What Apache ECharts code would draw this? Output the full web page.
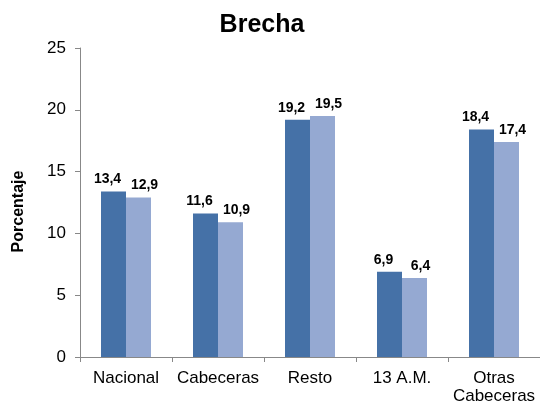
<!DOCTYPE html>
<html>
<head>
<meta charset="utf-8">
<script src="https://cdn.jsdelivr.net/npm/echarts@6/dist/echarts.min.js"></script>
<style>
  html, body { margin: 0; padding: 0; background: #fff; }
  #chart { width: 540px; height: 407px; }
</style>
</head>
<body>
<div id="chart"></div>
<script>
var categories = ['Nacional', 'Cabeceras', 'Resto', '13 A.M.', 'Otras\nCabeceras'];
var serie1 = [13.4, 11.6, 19.2, 6.9, 18.4];
var serie2 = [12.9, 10.9, 19.5, 6.4, 17.4];

// etiquetas con coma decimal
function coma(p) {
    return p.value.toFixed(1).replace('.', ',');
}

function etiqueta(dx) {
    return {
        show: true,
        position: 'top',
        distance: 5,
        offset: [dx, 0],
        formatter: coma,
        color: '#000',
        fontWeight: 'bold',
        fontSize: 14,
        fontFamily: 'Liberation Sans, Arial'
    };
}

var option = {
    animation: false,
    title: {
        text: 'Brecha',
        left: 257,
        textAlign: 'center',
        top: 8,
        textStyle: { fontSize: 25, fontWeight: 'bold', color: '#000', fontFamily: 'Liberation Sans, Arial' }
    },
    grid: { left: 80, right: 0, top: 48, bottom: 50 },
    xAxis: {
        type: 'category',
        data: categories,
        axisLine: { lineStyle: { color: '#888' } },
        axisTick: { show: true, alignWithLabel: false, length: 5, lineStyle: { color: '#888' } },
        axisLabel: { interval: 0, color: '#000', fontSize: 17, lineHeight: 18, margin: 12, fontFamily: 'Liberation Sans, Arial' }
    },
    yAxis: {
        type: 'value',
        min: 0,
        max: 25,
        interval: 5,
        name: 'Porcentaje',
        nameLocation: 'middle',
        nameGap: 53,
        nameTextStyle: { fontSize: 16, fontWeight: 'bold', color: '#000', padding: [0, 18, 0, 0], fontFamily: 'Liberation Sans, Arial' },
        axisLine: { show: true, lineStyle: { color: '#888' } },
        axisTick: { show: true, length: 5, lineStyle: { color: '#888' } },
        splitLine: { show: false },
        axisLabel: { color: '#000', fontSize: 17, margin: 14, fontFamily: 'Liberation Sans, Arial' }
    },
    series: [{
        type: 'bar',
        data: serie1,
        barWidth: 25,
        barGap: '0%',
        itemStyle: { color: '#4571A7' },
        label: etiqueta(-6)
    }, {
        type: 'bar',
        data: serie2,
        barWidth: 25,
        itemStyle: { color: '#95A9D2' },
        label: etiqueta(6)
    }]
};

var myChart = echarts.init(document.getElementById('chart'));
myChart.setOption(option);
</script>
</body>
</html>
